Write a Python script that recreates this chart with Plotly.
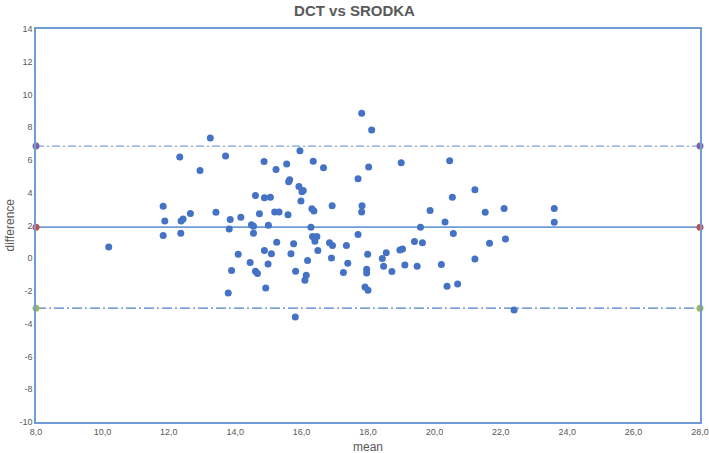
import plotly.graph_objects as go

mean_vals = [13.25, 12.33, 13.71, 12.94, 14.61, 11.83, 11.88, 12.37, 12.43, 12.65,
             13.42, 13.85, 14.17, 14.73, 11.83, 12.36, 13.82, 14.49, 14.55, 14.55,
             10.19, 14.09, 14.45, 14.61, 14.67, 13.89, 13.79,
             14.87, 14.88, 15.06, 15.00, 14.88, 15.09, 14.99, 14.92, 15.23, 15.55,
             15.19, 15.32, 15.25, 15.59, 15.61, 15.64, 15.95, 15.92, 16.01, 16.05,
             15.98, 16.35, 16.66, 16.31, 16.37, 16.28, 16.33, 16.46, 16.40, 16.49,
             15.76, 15.68, 16.18, 15.82, 16.14, 16.10, 15.81, 16.92, 16.84, 16.93,
             17.35, 16.90, 17.39, 17.26, 17.81, 18.11, 18.02, 17.70, 17.82, 17.81,
             17.70, 17.99, 17.96, 17.96, 17.91, 18.00, 19.00, 18.43, 18.55, 18.47,
             18.72, 18.96, 19.04, 19.11, 19.40, 19.48, 19.64, 19.58, 19.87, 20.46,
             20.54, 20.32, 20.57, 20.21, 20.38, 20.70,
             21.22, 21.53, 22.10, 21.66, 22.14, 21.22, 22.40, 23.61, 23.61]
diff_vals = [7.34, 6.18, 6.24, 5.36, 3.83, 3.18, 2.28, 2.28, 2.39, 2.73,
             2.81, 2.37, 2.51, 2.71, 1.39, 1.53, 1.78, 2.04, 1.96, 1.53,
             0.69, 0.25, -0.26, -0.79, -0.93, -0.75, -2.12,
             5.91, 3.69, 3.73, 2.02, 0.47, 0.27, -0.35, -1.81, 5.42, 5.75,
             2.83, 2.83, 0.98, 2.65, 4.67, 4.79, 6.56, 4.38, 4.06, 4.14,
             3.49, 5.93, 5.52, 3.02, 2.89, 1.90, 1.33, 1.33, 1.04, 0.47,
             0.88, 0.27, -0.14, -0.79, -1.04, -1.34, -3.59, 3.20, 0.94, 0.78,
             0.78, 0.02, -0.30, -0.87, 8.85, 7.83, 5.58, 4.85, 3.20, 2.83,
             1.45, 0.25, -0.67, -0.90, -1.75, -1.95, 5.83, -0.02, 0.33, -0.49,
             -0.81, 0.51, 0.57, -0.41, 1.02, -0.49, 0.94, 1.90, 2.92, 5.95,
             3.73, 2.22, 1.51, -0.38, -1.71, -1.57,
             4.18, 2.81, 3.04, 0.92, 1.18, -0.04, -3.16, 3.04, 2.20]

x_range = [8, 28]
mean_diff = 1.9
upper_loa = 6.85
lower_loa = -3.05

x_tickvals = [8, 10, 12, 14, 16, 18, 20, 22, 24, 26, 28]
x_ticktext = ["8,0", "10,0", "12,0", "14,0", "16,0", "18,0", "20,0", "22,0", "24,0", "26,0", "28,0"]
y_tickvals = [-10, -8, -6, -4, -2, 0, 2, 4, 6, 8, 10, 12, 14]
y_ticktext = ["-10", "-8", "-6", "-4", "-2", "0", "2", "4", "6", "8", "10", "12", "14"]

FONT = "Liberation Sans Narrow, Arial Narrow, Liberation Sans, Arial, sans-serif"
TFONT = "Liberation Sans, Arial, sans-serif"
GRAY = "#595959"

fig = go.Figure()

fig.add_trace(go.Scatter(x=x_range, y=[upper_loa, upper_loa], mode="lines+markers",
                         line=dict(color="#7EA6DC", width=1.3, dash="8px,3px,2px,3px"),
                         marker=dict(color="#8064A2", size=7), showlegend=False,
                         cliponaxis=False))
fig.add_trace(go.Scatter(x=x_range, y=[mean_diff, mean_diff], mode="lines+markers",
                         line=dict(color="#6F9BD6", width=1.6),
                         marker=dict(color="#C0504D", size=7), showlegend=False,
                         cliponaxis=False))
fig.add_trace(go.Scatter(x=x_range, y=[lower_loa, lower_loa], mode="lines+markers",
                         line=dict(color="#4F81C7", width=1.3, dash="10px,3px,2px,3px"),
                         marker=dict(color="#9BBB59", size=7), showlegend=False,
                         cliponaxis=False))

fig.add_trace(go.Scatter(x=mean_vals, y=diff_vals, mode="markers",
                         marker=dict(color="#4472C4", size=7), showlegend=False))

fig.update_layout(
    width=709, height=453,
    margin=dict(l=36, r=9, t=29, b=31, autoexpand=False),
    paper_bgcolor="white", plot_bgcolor="white",
    title=dict(text="<b>DCT vs SRODKA</b>", x=0.5, xanchor="center", y=1 - 11 / 453, yanchor="middle",
               font=dict(family=TFONT, size=15, color=GRAY)),
    font=dict(family=FONT, color=GRAY, size=9),
    annotations=[
        dict(text="mean", xref="paper", yref="paper", x=0.5, y=-25 / 393, xanchor="center",
             yanchor="middle", showarrow=False, font=dict(size=12, color=GRAY, family=TFONT)),
        dict(text="difference", xref="paper", yref="paper", x=-27 / 664, y=0.5, xanchor="center",
             yanchor="middle", textangle=-90, showarrow=False,
             font=dict(size=12, color=GRAY, family=TFONT)),
    ],
)
fig.update_xaxes(range=x_range, tickvals=x_tickvals, ticktext=x_ticktext, automargin=False,
                 showgrid=False, zeroline=False, showline=True, mirror=True,
                 linecolor="#6F9BD6", linewidth=1.5, ticks="",
                 tickfont=dict(size=9, color=GRAY, family=FONT))
fig.update_yaxes(range=[-10, 14], tickvals=y_tickvals, ticktext=y_ticktext, automargin=False,
                 showgrid=False, zeroline=False, showline=True, mirror=True,
                 linecolor="#6F9BD6", linewidth=1.5, ticks="",
                 tickfont=dict(size=9, color=GRAY, family=FONT))

fig.write_html("out.html", config={"displayModeBar": False},
               post_script="document.body.style.margin='0px';")
